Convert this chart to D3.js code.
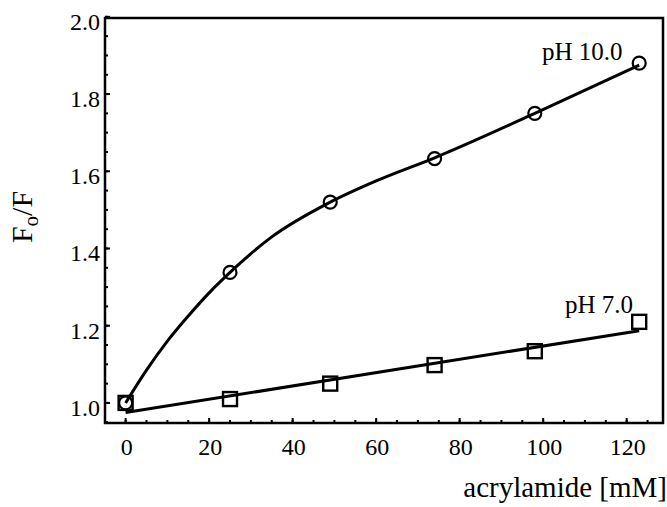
<!DOCTYPE html>
<html><head><meta charset="utf-8">
<script src="https://cdn.jsdelivr.net/npm/d3@7"></script>
<style>body{margin:0;background:#fff}svg{display:block}text{font-family:"Liberation Serif","Times New Roman",Times,serif}</style>
</head><body>
<svg id="c" width="667" height="507"></svg>
<script>
// Measured data
const conc = [0, 25, 49, 74, 98, 123];
const ph10 = [1.0, 1.338, 1.52, 1.633, 1.75, 1.88];
const ph7 = [1.0, 1.01, 1.05, 1.098, 1.134, 1.21];
// Fitted curves
const fit10X = [0, 5, 10, 15, 20, 25, 35, 49, 60, 74, 98, 123];
const fit10Y = [1.0, 1.085, 1.16, 1.225, 1.285, 1.338, 1.43, 1.52, 1.575, 1.635, 1.75, 1.875];
const fit7X = [0, 123];
const fit7Y = [0.975, 1.187];
const xTicks = [0, 20, 40, 60, 80, 100, 120];
const yTicks = [1.0, 1.2, 1.4, 1.6, 1.8, 2.0];
const seriesLabels = ["pH 10.0", "pH 7.0"];
const xTitle = "acrylamide [mM]";

const svg = d3.select("#c");
const L = 105, R = 663, T = 18, B = 423;
const x = d3.scaleLinear().domain([-4.94, 128.7]).range([L, R]);
const y = d3.scaleLinear().domain([0.948, 1.997]).range([B, T]);

// frame
svg.append("rect").attr("x", L).attr("y", T).attr("width", R - L).attr("height", B - T)
  .attr("fill", "none").attr("stroke", "#000").attr("stroke-width", 2.5);

// y ticks
const yMinor = d3.range(0.95, 2.0001, 0.05);
svg.append("g").selectAll("line").data(yMinor).join("line")
  .attr("x1", L).attr("x2", L + 3).attr("y1", d => y(d)).attr("y2", d => y(d))
  .attr("stroke", "#000").attr("stroke-width", 2);
svg.append("g").selectAll("line").data(yTicks).join("line")
  .attr("x1", L).attr("x2", L + 5).attr("y1", d => y(d)).attr("y2", d => y(d))
  .attr("stroke", "#000").attr("stroke-width", 2);
svg.append("g").selectAll("text").data(yTicks).join("text")
  .attr("x", L - 5).attr("y", d => y(d) + 13).attr("text-anchor", "end")
  .attr("font-size", 24).text(d => d.toFixed(1));

// x ticks
const xMinor = d3.range(0, 126, 5);
svg.append("g").selectAll("line").data(xMinor).join("line")
  .attr("x1", d => x(d)).attr("x2", d => x(d)).attr("y1", B).attr("y2", B - 3)
  .attr("stroke", "#000").attr("stroke-width", 2);
svg.append("g").selectAll("line").data(xTicks).join("line")
  .attr("x1", d => x(d)).attr("x2", d => x(d)).attr("y1", B).attr("y2", B - 5)
  .attr("stroke", "#000").attr("stroke-width", 2);
svg.append("g").selectAll("text").data(xTicks).join("text")
  .attr("x", d => x(d) + 1).attr("y", 455).attr("text-anchor", "middle")
  .attr("font-size", 24).text(d => d);

// fit lines
const line = d3.line().x(d => x(d[0])).y(d => y(d[1])).curve(d3.curveMonotoneX);
svg.append("path").attr("d", line(d3.zip(fit10X, fit10Y)))
  .attr("fill", "none").attr("stroke", "#000").attr("stroke-width", 3);
svg.append("path").attr("d", line(d3.zip(fit7X, fit7Y)))
  .attr("fill", "none").attr("stroke", "#000").attr("stroke-width", 3);

// markers
svg.append("g").selectAll("circle").data(d3.zip(conc, ph10)).join("circle")
  .attr("cx", d => x(d[0])).attr("cy", d => y(d[1])).attr("r", 6.5)
  .attr("fill", "none").attr("stroke", "#000").attr("stroke-width", 2.2);
const s = 14;
svg.append("g").selectAll("rect").data(d3.zip(conc, ph7)).join("rect")
  .attr("x", d => x(d[0]) - s / 2).attr("y", d => y(d[1]) - s / 2)
  .attr("width", s).attr("height", s)
  .attr("fill", "none").attr("stroke", "#000").attr("stroke-width", 2.4);

// series labels
svg.append("text").attr("x", 542).attr("y", 60).attr("font-size", 25).text(seriesLabels[0]);
svg.append("text").attr("x", 565).attr("y", 313).attr("font-size", 25).text(seriesLabels[1]);

// axis titles
svg.append("text").attr("x", 667).attr("y", 497).attr("text-anchor", "end")
  .attr("font-size", 29).text(xTitle);
const yl = svg.append("text").attr("transform", "translate(32,217) rotate(-90)")
  .attr("text-anchor", "middle").attr("font-size", 30);
yl.append("tspan").text("F");
yl.append("tspan").attr("dy", 6).attr("font-size", 21).text("o");
yl.append("tspan").attr("dy", -6).text("/F");
</script>
</body></html>
